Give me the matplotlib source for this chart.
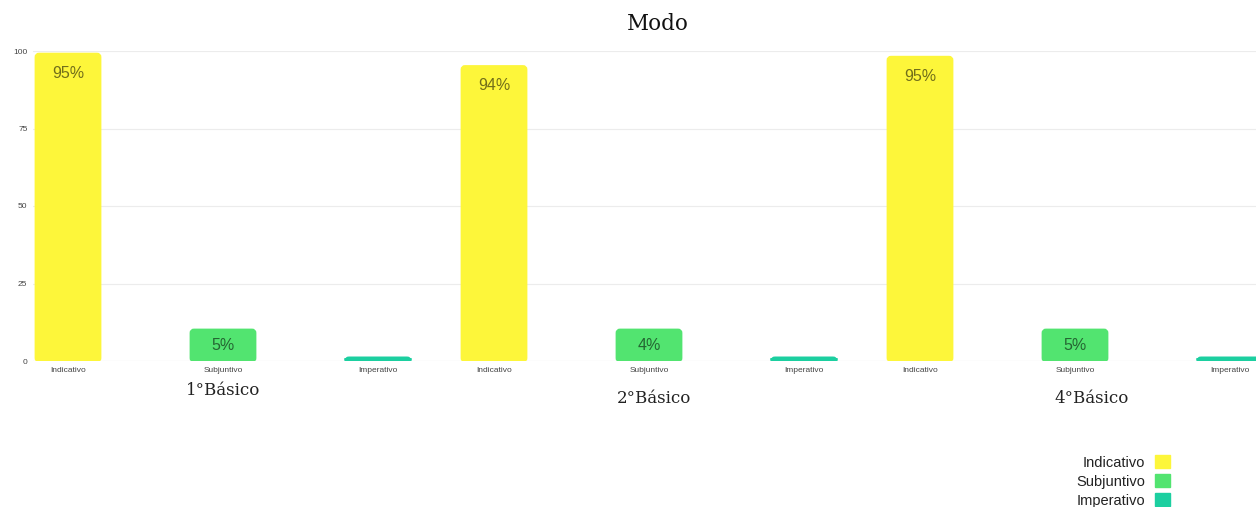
import matplotlib.pyplot as plt
from matplotlib.patches import Patch, FancyBboxPatch

plt.rcParams["font.family"] = ["Liberation Sans", "DejaVu Sans"]

# data
modes = ["Indicativo", "Subjuntivo", "Imperativo"]
groups = ["1°Básico", "2°Básico", "4°Básico"]
heights = {
    "Indicativo": [99, 95, 98],
    "Subjuntivo": [10, 10, 10],
    "Imperativo": [1, 1, 1],
}
labels = {
    "Indicativo": ["95%", "94%", "95%"],
    "Subjuntivo": ["5%", "4%", "5%"],
    "Imperativo": ["", "", ""],
}
colors = {"Indicativo": "#fdf63a", "Subjuntivo": "#52e470", "Imperativo": "#1ccfa0"}
y_ticks = [0, 25, 50, 75, 100]

fig = plt.figure(figsize=(12.56, 5.07), dpi=100)
ax = fig.add_axes([33 / 1256, 1 - 361 / 507, 1 - 33 / 1256, 310 / 507])

step = 155
group_step = 2 * step + 116
width = 70
serif = ["DejaVu Serif"]
label_offset = {"Indicativo": 6.2, "Subjuntivo": 5, "Imperativo": 0}
# group caption placement relative to the middle bar
cap_dx = [0, 5, 17]
cap_y = [-9.6, -12.1, -12.1]

xs, names = [], []
for g, grp in enumerate(groups):
    for m, mode in enumerate(modes):
        x = g * group_step + m * step
        h = heights[mode][g]
        bar = ax.bar(x, h, width=width, color=colors[mode], zorder=2)[0]
        # round the top corners a little
        bar.set_visible(False)
        ax.add_patch(FancyBboxPatch((x - width / 2 + 3, 0), width - 6, h,
                                    boxstyle="round,pad=0,rounding_size=3",
                                    mutation_aspect=0.32,
                                    facecolor=colors[mode], edgecolor=colors[mode],
                                    linewidth=2, zorder=2))
        if labels[mode][g]:
            ax.text(x, h - label_offset[mode], labels[mode][g], ha="center", va="center",
                    fontsize=11.5, color="black", alpha=0.55, zorder=3)
        xs.append(x)
        names.append(mode)
    ax.text(g * group_step + step + cap_dx[g], cap_y[g],
            grp, ha="center", va="center", fontsize=12, family=serif,
            color="#222222", transform=ax.transData)

ax.set_xticks(xs)
ax.set_xticklabels(names, fontsize=6, color="#444444")
ax.set_yticks(y_ticks)
ax.set_yticklabels([str(t) for t in y_ticks], fontsize=6, color="#444444")
ax.tick_params(length=0, pad=4)
ax.set_xlim(-35, 1256 - 33 - 35)
ax.set_ylim(0, 100)
for s in ax.spines.values():
    s.set_visible(False)
ax.grid(axis="y", color="#ececec", linewidth=0.8, zorder=0)
ax.axhline(0, color="#dddddd", linewidth=0.8, zorder=1)

fig.text(658 / 1256, 1 - 24 / 507, "Modo", ha="center", va="center",
         fontsize=15.5, family=serif, color="#111111")

handles = [Patch(facecolor=colors[m], edgecolor=colors[m]) for m in modes]
fig.legend(handles, modes, loc="upper right", bbox_to_anchor=(1177 / 1256, 1 - 448 / 507),
           frameon=False, markerfirst=False, fontsize=10.5, handlelength=1.0,
           handleheight=1.0, handletextpad=0.7, labelspacing=0.3, borderpad=0,
           labelcolor="#222222")

fig.savefig("out.png", dpi=100, facecolor="white")
